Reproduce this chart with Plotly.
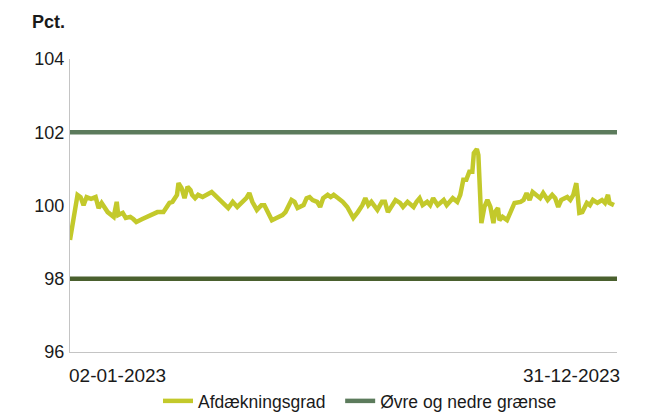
import plotly.graph_objects as go

# Afdækningsgrad (pct.)
dates = [
    "2023-01-02", "2023-01-07", "2023-01-09", "2023-01-11", "2023-01-13", "2023-01-16", "2023-01-19",
    "2023-01-21", "2023-01-23", "2023-01-25", "2023-01-27", "2023-01-31", "2023-02-02", "2023-02-03",
    "2023-02-06", "2023-02-08", "2023-02-11", "2023-02-13", "2023-02-15", "2023-02-19", "2023-02-22",
    "2023-02-24", "2023-02-27", "2023-03-01", "2023-03-05", "2023-03-07", "2023-03-09", "2023-03-11",
    "2023-03-14", "2023-03-15", "2023-03-17", "2023-03-19", "2023-03-21", "2023-03-23", "2023-03-24",
    "2023-03-26", "2023-03-28", "2023-03-31", "2023-04-04", "2023-04-06", "2023-04-08", "2023-04-12",
    "2023-04-15", "2023-04-17", "2023-04-20", "2023-04-23", "2023-04-27", "2023-04-29", "2023-05-01",
    "2023-05-03", "2023-05-06", "2023-05-09", "2023-05-11", "2023-05-13", "2023-05-16", "2023-05-19",
    "2023-05-23", "2023-05-25", "2023-05-27", "2023-05-29", "2023-05-31", "2023-06-02", "2023-06-06",
    "2023-06-08", "2023-06-10", "2023-06-12", "2023-06-15", "2023-06-17", "2023-06-19", "2023-06-22",
    "2023-06-24", "2023-06-26", "2023-06-29", "2023-07-02", "2023-07-05", "2023-07-07", "2023-07-09",
    "2023-07-12", "2023-07-15", "2023-07-17", "2023-07-19", "2023-07-21", "2023-07-23", "2023-07-25",
    "2023-07-28", "2023-07-30", "2023-08-01", "2023-08-04", "2023-08-06", "2023-08-09", "2023-08-11",
    "2023-08-14", "2023-08-16", "2023-08-18", "2023-08-20", "2023-08-22", "2023-08-24", "2023-08-27",
    "2023-08-29", "2023-08-31", "2023-09-03", "2023-09-05", "2023-09-07", "2023-09-09", "2023-09-11",
    "2023-09-13", "2023-09-16", "2023-09-18", "2023-09-20", "2023-09-22", "2023-09-24", "2023-09-26",
    "2023-09-27", "2023-09-29", "2023-09-30", "2023-10-02", "2023-10-04", "2023-10-06", "2023-10-08",
    "2023-10-10", "2023-10-11", "2023-10-13", "2023-10-14", "2023-10-16", "2023-10-19", "2023-10-21",
    "2023-10-24", "2023-10-28", "2023-10-30", "2023-11-01", "2023-11-03", "2023-11-05", "2023-11-08",
    "2023-11-10", "2023-11-12", "2023-11-13", "2023-11-15", "2023-11-18", "2023-11-20", "2023-11-22",
    "2023-11-24", "2023-11-28", "2023-11-30", "2023-12-02", "2023-12-04", "2023-12-05", "2023-12-06",
    "2023-12-08", "2023-12-11", "2023-12-13", "2023-12-15", "2023-12-18", "2023-12-21", "2023-12-23",
    "2023-12-25", "2023-12-26", "2023-12-28", "2023-12-29",
]
afdaekningsgrad = [
    99.06, 100.29, 100.23, 100.01, 100.23, 100.18, 100.23,
    99.93, 100.07, 99.93, 99.82, 99.69, 100.10, 99.74,
    99.80, 99.66, 99.69, 99.63, 99.55, 99.63, 99.69,
    99.74, 99.77, 99.82, 99.82, 99.93, 100.07, 100.10,
    100.29, 100.61, 100.48, 100.20, 100.51, 100.42, 100.29,
    100.20, 100.29, 100.23, 100.34, 100.37, 100.29, 100.15,
    100.01, 99.93, 100.10, 99.96, 100.10, 100.20, 100.34,
    100.10, 99.88, 100.01, 100.01, 99.82, 99.60, 99.66,
    99.74, 99.82, 100.01, 100.15, 100.10, 99.93, 100.01,
    100.20, 100.23, 100.15, 100.10, 99.96, 100.20, 100.29,
    100.23, 100.29, 100.20, 100.10, 99.96, 99.82, 99.66,
    99.82, 100.01, 100.20, 100.01, 100.10, 100.01, 99.88,
    100.10, 100.10, 99.82, 100.01, 100.15, 100.07, 99.96,
    100.10, 100.01, 99.96, 100.10, 100.20, 100.01, 100.10,
    100.01, 100.20, 100.01, 100.10, 100.15, 100.01, 100.10,
    100.20, 100.10, 100.29, 100.70, 100.70, 100.92, 100.92,
    101.43, 101.54, 101.38, 99.52, 99.96, 100.15, 99.96,
    99.52, 99.82, 99.93, 99.60, 99.69, 99.60, 99.80,
    100.07, 100.10, 100.15, 100.34, 100.15, 100.37, 100.29,
    100.20, 100.34, 100.29, 100.15, 100.29, 100.20, 99.96,
    100.15, 100.23, 100.15, 100.29, 100.61, 100.23, 99.80,
    99.82, 100.07, 100.01, 100.15, 100.07, 100.15, 100.07,
    100.29, 100.07, 100.01, 100.01,
]

# Bounds
bound_dates = ["2023-01-02", "2023-12-31"]
upper_bound = [102, 102]
lower_bound = [98, 98]

x_tick_dates = ["2023-01-02", "2023-12-31"]
x_tick_labels = ["02-01-2023", "31-12-2023"]
y_tick_vals = [96, 98, 100, 102, 104]

COL_LINE = "#c3c92b"
COL_UPPER = "#5c7b5c"
COL_LOWER = "#4a602e"
FONT = "Liberation Sans, Arial, sans-serif"
NBSP = "\u00a0"

fig = go.Figure()
fig.add_trace(go.Scatter(
    x=dates, y=afdaekningsgrad, mode="lines", name="Afdækningsgrad" + NBSP * 2,
    line=dict(color=COL_LINE, width=4.5),
))
fig.add_trace(go.Scatter(
    x=bound_dates, y=upper_bound, mode="lines", name="Øvre og nedre grænse",
    line=dict(color=COL_UPPER, width=4.5),
))
fig.add_trace(go.Scatter(
    x=bound_dates, y=lower_bound, mode="lines", name="Nedre grænse", showlegend=False,
    line=dict(color=COL_LOWER, width=4.5),
))

fig.update_layout(
    width=655, height=414,
    margin=dict(l=70, r=38, t=59, b=62, autoexpand=False),
    paper_bgcolor="white", plot_bgcolor="white",
    font=dict(family=FONT, size=18, color="#1a1a1a"),
    showlegend=True,
    legend=dict(
        orientation="h", x=(158 / 655), xref="container", xanchor="left",
        y=(13 / 414), yref="container", yanchor="middle",
        font=dict(size=17.5, color="#1a1a1a"), itemwidth=30,
        bgcolor="rgba(0,0,0,0)",
    ),
    xaxis=dict(
        range=["2023-01-02", "2023-12-31"], showgrid=False, zeroline=False,
        showline=True, linecolor="#c4c4c4", linewidth=1,
        showticklabels=False, ticks="", automargin=False,
    ),
    yaxis=dict(
        range=[96, 104], tickvals=y_tick_vals, showgrid=False, zeroline=False,
        showline=True, linecolor="#c4c4c4", linewidth=1, automargin=False,
        ticks="", ticklabelstandoff=1, tickfont=dict(size=18),
    ),
)

fig.add_annotation(
    text="<b>Pct.</b>", xref="paper", yref="paper", x=-0.073, y=1.126,
    xanchor="left", yanchor="middle", showarrow=False, font=dict(size=18),
)
for d, lab, anchor, shift in zip(x_tick_dates, x_tick_labels, ["left", "right"], [-3, 5]):
    fig.add_annotation(
        text=lab, x=d, xref="x", yref="paper", y=-0.0785, xanchor=anchor,
        yanchor="middle", showarrow=False, xshift=shift, font=dict(size=19),
    )

fig.write_html(
    "out.html",
    config={"displayModeBar": False},
    post_script="document.body.style.margin='0';",
)
